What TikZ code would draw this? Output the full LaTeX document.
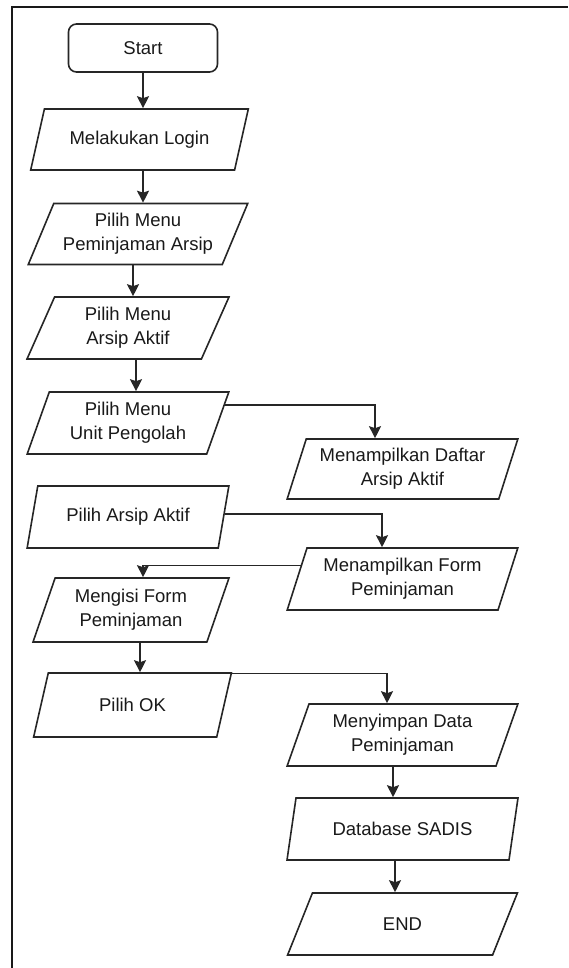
\documentclass[tikz,border=0pt]{standalone}
\usepackage{fontspec}
\setmainfont{Liberation Sans}
\usetikzlibrary{shapes.geometric, arrows.meta, calc}
\definecolor{linegray}{HTML}{262626}

\tikzset{
  startstop/.style={draw=linegray, line width=1.6pt, rounded corners=8pt,
    minimum width=149pt, minimum height=48pt, inner sep=0pt},
  iowide/.style={draw=linegray, line width=1.6pt, trapezium, trapezium stretches=true,
    trapezium left angle=62, trapezium right angle=118,
    minimum height=61pt, inner sep=1pt, align=center},
  io/.style={draw=linegray, line width=1.6pt, trapezium, trapezium stretches=true,
    trapezium left angle=69, trapezium right angle=111,
    minimum height=62pt, inner sep=1pt, align=center},
  arrow/.style={draw=linegray, line width=1.6pt, -{Stealth[length=12pt, width=12pt, inset=2pt]}},
}

\begin{document}
\begin{tikzpicture}[x=1pt, y=-1pt, font=\fontsize{18.5}{24}\selectfont, text=black!90]
  \useasboundingbox (0,0) rectangle (568,968);

  % Frame
  \draw[line width=2.8pt, black!90] (12,968) -- (12,7) -- (568,7);

  % Left column
  \node[startstop] (start) at (143,48) {Start};
  \node[iowide, minimum width=218pt] (login) at (139.5,139.5) {Melakukan Login};
  \node[iowide, minimum width=220pt] (pinjam) at (138,234) {Pilih Menu\\Peminjaman Arsip};
  \node[io, minimum width=202pt] (aktif) at (128,328) {Pilih Menu\\Arsip Aktif};
  \node[io, minimum width=202pt] (unit) at (128,423) {Pilih Menu\\Unit Pengolah};
  \node[io, minimum width=202pt] (pilarsip) at (128,517) {Pilih Arsip Aktif};
  \node[io, minimum width=196pt, minimum height=64pt] (mengisi) at (131,610) {Mengisi Form\\Peminjaman};
  \node[io, minimum width=199pt, minimum height=64pt] (ok) at (132.5,705) {Pilih OK};

  % Right column
  \node[io, minimum width=231pt, minimum height=60pt] (daftar) at (402.5,469) {Menampilkan Daftar\\Arsip Aktif};
  \node[io, minimum width=231pt] (form) at (402.5,579) {Menampilkan Form\\Peminjaman};
  \node[io, minimum width=231pt] (simpan) at (402.5,735) {Menyimpan Data\\Peminjaman};
  \node[io, minimum width=231pt] (db) at (402.5,829) {Database SADIS};
  \node[io, minimum width=231pt] (end) at (402.5,924) {END};

  % Connectors
  \draw[arrow] (start.south) -- (start.south |- login.north);
  \draw[arrow] ([xshift=3.5pt]login.south) -- ([xshift=3.5pt]login.south |- pinjam.north);
  \draw[arrow] ([xshift=-5pt]pinjam.south) -- ([xshift=-5pt]pinjam.south |- aktif.north);
  \draw[arrow] ([xshift=8pt]aktif.south) -- ([xshift=8pt]aktif.south |- unit.north);
  \draw[arrow] ($(unit.top right corner)!0.22!(unit.bottom right corner)$) -| ([xshift=-27.5pt]daftar.north);
  \draw[arrow] ($(pilarsip.top right corner)!0.45!(pilarsip.bottom right corner)$) -| ([xshift=-20.5pt]form.north);
  \draw[arrow] ($(form.top left corner)!0.29!(form.bottom left corner)$) -| ([xshift=12pt]mengisi.north);
  \draw[arrow] ([xshift=9pt]mengisi.south) -- ([xshift=9pt]mengisi.south |- ok.north);
  \draw[arrow] ($(ok.top right corner)!0.02!(ok.bottom right corner)$) -| ([xshift=-15.5pt]simpan.north);
  \draw[arrow] ([xshift=-9.5pt]simpan.south) -- ([xshift=-9.5pt]simpan.south |- db.north);
  \draw[arrow] ([xshift=-7.5pt]db.south) -- ([xshift=-7.5pt]db.south |- end.north);
\end{tikzpicture}
\end{document}
